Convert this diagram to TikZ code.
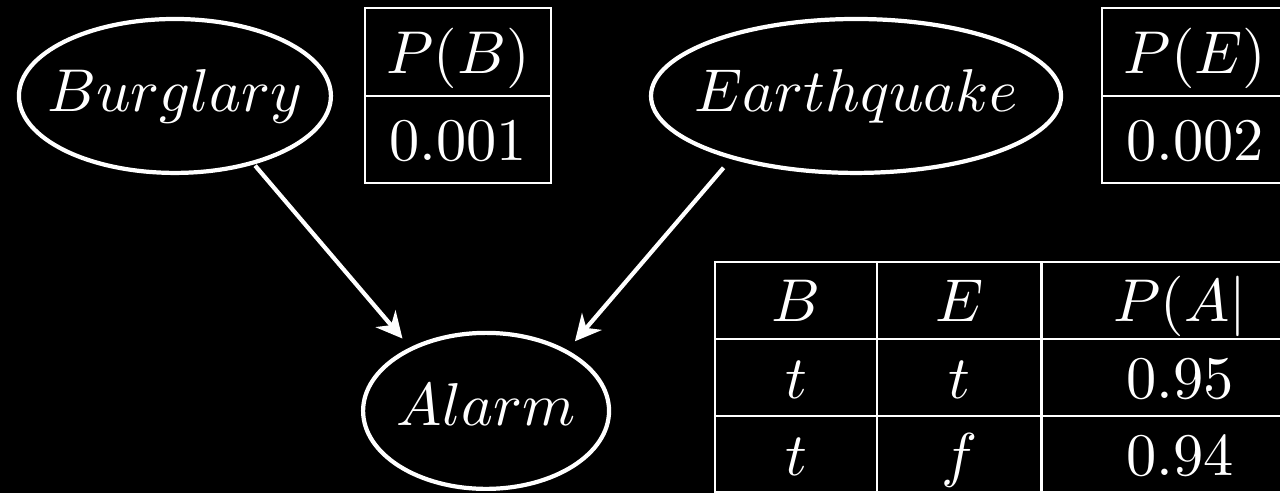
\documentclass[tikz,border=0pt]{standalone}
\usetikzlibrary{shapes.geometric, arrows.meta}

\begin{document}
\begin{tikzpicture}[
    scale=1.72, transform shape,
    var/.style={ellipse, draw=white, line width=1.2pt, minimum height=0.895cm,
        label={[text=white, text height=0.7em, text depth=0.2em]center:$#1$}},
    edge/.style={draw=white, line width=1.2pt, -{Stealth[length=2.6mm, width=2.6mm]}, shorten >=1mm},
    cell/.style={rectangle, draw=white, line width=0.6pt, text=white, inner sep=0pt,
        text height=0.72em, text depth=0.02em}
]
\useasboundingbox (0,0) rectangle (7.442,2.866);
\clip (0,0) rectangle (7.442,2.866);
\fill[black] (0,0) rectangle (7.442,2.866);

% Variables
\node[var=Burglary, minimum width=1.814cm] (burg) at (1.017,2.308) {};
\node[var=Earthquake, minimum width=2.384cm] (quake) at (4.977,2.308) {};
\node[var=Alarm, minimum width=1.43cm, minimum height=0.907cm] (alarm) at (2.826,0.477) {};

% Edges
\draw[edge] (burg.-41) -- (alarm.140);
\draw[edge, shorten <=1mm] (quake.-153) -- (alarm.37);

% Priors
\node[cell, minimum width=1.081cm, minimum height=0.509cm] (pbh) at (2.663,2.564) {$P(B)$};
\node[cell, minimum width=1.081cm, minimum height=0.509cm] (pbv) at (2.663,2.055) {$0.001$};
\node[cell, minimum width=1.081cm, minimum height=0.509cm] (peh) at (6.948,2.564) {$P(E)$};
\node[cell, minimum width=1.081cm, minimum height=0.509cm] (pev) at (6.948,2.055) {$0.002$};

% CPT of Alarm
\node[cell, minimum width=0.942cm, minimum height=0.448cm] (b0) at (4.628,1.119) {$B$};
\node[cell, minimum width=0.959cm, minimum height=0.448cm] (e0) at (5.578,1.119) {$E$};
\node[cell, minimum width=1.616cm, minimum height=0.448cm] (a0) at (6.860,1.119) {$P(A|$};

\node[cell, minimum width=0.942cm, minimum height=0.448cm] (b1) at (4.628,0.672) {$t$};
\node[cell, minimum width=0.959cm, minimum height=0.448cm] (e1) at (5.578,0.672) {$t$};
\node[cell, minimum width=1.616cm, minimum height=0.448cm] (a1) at (6.860,0.672) {$0.95$};

\node[cell, minimum width=0.942cm, minimum height=0.442cm] (b2) at (4.628,0.227) {$t$};
\node[cell, minimum width=0.959cm, minimum height=0.442cm] (e2) at (5.578,0.227) {$f$};
\node[cell, minimum width=1.616cm, minimum height=0.442cm] (a2) at (6.860,0.227) {$0.94$};
\end{tikzpicture}
\end{document}
